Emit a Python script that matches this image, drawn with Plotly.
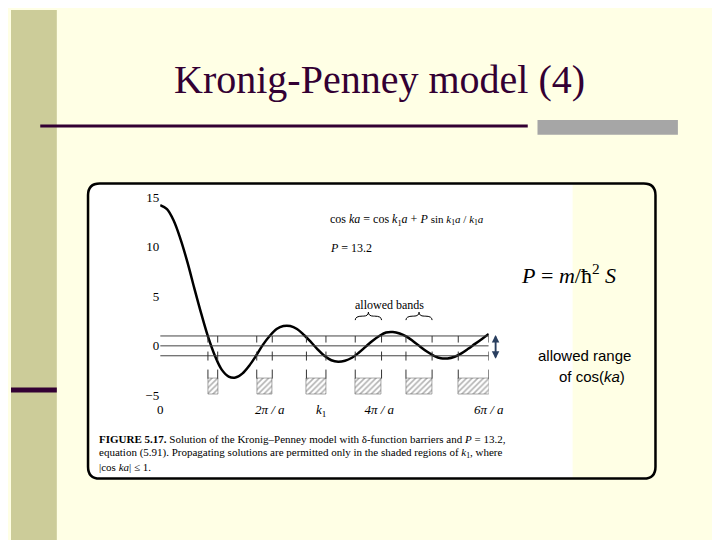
import plotly.graph_objects as go
import math

PI = math.pi
# curve values (x in rad, y value)
curve_x = [0, 0.39, 0.785, 1.18, 1.571, 1.96, 2.356, 2.75, 3.14, 3.53, 3.93, 4.32, 4.71, 5.11, 5.50, 5.89,
           6.28, 6.68, 7.07, 7.46, 7.85, 8.25, 8.64, 9.03, 9.42, 9.82, 10.21, 10.60, 11.0, 11.39, 11.78,
           12.17, 12.57, 12.96, 13.35, 13.74, 14.14, 14.53, 14.92, 15.32, 15.71, 16.10, 16.49, 16.89,
           17.28, 17.67, 18.06, 18.46, 18.85]
curve_y = [14.2, 13.8, 12.6, 10.7, 8.4, 5.8, 3.25, 0.9, -1.0, -2.4, -3.1, -3.2, -2.8, -2.0, -1.0, 0.1,
           1.0, 1.7, 2.0, 2.0, 1.7, 1.1, 0.4, -0.35, -1.0, -1.45, -1.6, -1.5, -1.2, -0.7, -0.1,
           0.5, 1.0, 1.35, 1.4, 1.25, 0.93, 0.45, -0.08, -0.6, -1.0, -1.25, -1.27, -1.1, -0.76, -0.3,
           0.2, 0.7, 1.2]
band_lo = [2.74, 5.54, 8.39, 11.19, 14.1, 17.1]
band_hi = [3.30, 6.43, 9.51, 12.7, 15.6, 18.85]
y_ticks = [15, 10, 5, 0, -5]
x_tick_vals = [0, 2 * PI, 9.23, 4 * PI, 6 * PI]
x_tick_text = ["0", "<i>2π / a</i>", "<i>k</i><sub>1</sub>", "<i>4π / a</i>", "<i>6π / a</i>"]

def px(x): return x / 720
def py(y): return 1 - y / 540

fig = go.Figure()
fig.add_trace(go.Bar(x=[(a + b) / 2 for a, b in zip(band_lo, band_hi)],
                     y=[1.6] * len(band_lo), base=[-4.9] * len(band_lo),
                     width=[b - a for a, b in zip(band_lo, band_hi)],
                     marker=dict(color="white", line=dict(color="#555", width=0.5),
                                 pattern=dict(shape="/", fgcolor="#666", size=4, solidity=0.4)),
                     showlegend=False, hoverinfo="skip"))
fig.add_trace(go.Scatter(x=curve_x, y=curve_y, mode="lines", line=dict(color="black", width=2.5, shape="spline"),
                         showlegend=False))

shapes = []
shapes.append(dict(type="rect", xref="paper", yref="paper", x0=0, x1=px(47), y0=0, y1=1,
                   fillcolor="#CCCC99", line_width=0, layer="below"))
shapes.append(dict(type="line", xref="paper", yref="paper", x0=px(30), x1=px(530), y0=py(117), y1=py(117),
                   line=dict(color="#330033", width=3)))
shapes.append(dict(type="rect", xref="paper", yref="paper", x0=px(540), x1=px(684), y0=py(111), y1=py(126),
                   fillcolor="#A6A6A6", line_width=0))
shapes.append(dict(type="rect", xref="paper", yref="paper", x0=0, x1=px(47), y0=py(386), y1=py(381),
                   fillcolor="#330033", line_width=0))
shapes.append(dict(type="rect", xref="paper", yref="paper", x0=px(81), x1=px(576), y0=py(472), y1=py(176),
                   fillcolor="white", line_width=0, layer="below"))
r = 12
x0, x1, y0, y1 = 79, 661, 175, 473
path = (f"M {px(x0+r)},{py(y0)} L {px(x1-r)},{py(y0)} Q {px(x1)},{py(y0)} {px(x1)},{py(y0+r)} "
        f"L {px(x1)},{py(y1-r)} Q {px(x1)},{py(y1)} {px(x1-r)},{py(y1)} L {px(x0+r)},{py(y1)} "
        f"Q {px(x0)},{py(y1)} {px(x0)},{py(y1-r)} L {px(x0)},{py(y0+r)} Q {px(x0)},{py(y0)} {px(x0+r)},{py(y0)} Z")
shapes.append(dict(type="path", xref="paper", yref="paper", path=path, line=dict(color="black", width=2.5)))
for v in (1, 0, -1):
    shapes.append(dict(type="line", xref="x", yref="y", x0=0, x1=6 * PI, y0=v, y1=v, line=dict(color="#444", width=1)))
for a, b in zip(band_lo, band_hi):
    for e in (a, b):
        shapes.append(dict(type="line", xref="x", yref="y", x0=e, x1=e, y0=-3.3, y1=1,
                           line=dict(color="#333", width=1, dash="dash")))
for a, b in [(band_lo[3], band_hi[3]), (band_lo[4], band_hi[4])]:
    m = (a + b) / 2
    shapes.append(dict(type="path", xref="x", yref="y",
                       path=f"M {a},2.6 Q {a},3.0 {a+0.4},3.0 L {m-0.3},3.0 Q {m},3.0 {m},3.4 "
                            f"Q {m},3.0 {m+0.3},3.0 L {b-0.4},3.0 Q {b},3.0 {b},2.6",
                       line=dict(color="black", width=1)))
fig.add_annotation(x=px(497), y=py(352), ax=0, ay=-24, xref="paper", yref="paper",
                   showarrow=True, arrowhead=2, arrowsize=1, arrowwidth=1.5, text="")
fig.add_annotation(x=px(497), y=py(328), ax=0, ay=24, xref="paper", yref="paper",
                   showarrow=True, arrowhead=2, arrowsize=1, arrowwidth=1.5, text="")

def txt(x, y, t, size, font="Liberation Serif", color="black", anchor="left", va="middle"):
    fig.add_annotation(x=px(x), y=py(y), xref="paper", yref="paper", text=t, showarrow=False,
                       xanchor=anchor, yanchor=va, font=dict(family=font, size=size, color=color))

txt(378, 70, "Kronig-Penney model (4)", 40, color="#330033", anchor="center")
txt(325, 212, "cos <i>ka</i> = cos <i>k</i><sub>1</sub><i>a</i> + <i>P</i> "
              "<span style='font-size:11px'>sin <i>k</i><sub>1</sub><i>a</i> / <i>k</i><sub>1</sub><i>a</i></span>", 12)
txt(325, 240, "<i>P</i> = 13.2", 12)
txt(388, 298, "allowed bands", 12, anchor="center")
txt(572, 266, "<i>P</i> = <i>m</i>/ħ<sup>2</sup> <i>S</i>", 22, anchor="center")
txt(588, 349, "allowed range", 15, font="Liberation Sans", anchor="center")
txt(596, 370, "of cos(<i>ka</i>)", 15, font="Liberation Sans", anchor="center")
txt(88, 433, "<b>FIGURE 5.17.</b> Solution of the Kronig–Penney model with δ-function barriers and <i>P</i> = 13.2,", 11)
txt(88, 447, "equation (5.91). Propagating solutions are permitted only in the shaded regions of <i>k</i><sub>1</sub>, where", 11)
txt(88, 461, "|cos <i>ka</i>| ≤ 1.", 11)

fig.update_layout(
    width=720, height=540, margin=dict(l=0, r=0, t=0, b=0), paper_bgcolor="#FFFFE5", plot_bgcolor="white",
    shapes=shapes, bargap=0,
    xaxis=dict(domain=[px(153), px(490)], range=[0, 6 * PI], tickvals=x_tick_vals, ticktext=x_tick_text,
               showgrid=False, zeroline=False, ticks="", showline=False,
               tickfont=dict(family="Liberation Serif", size=13, color="black")),
    yaxis=dict(domain=[py(394), py(184)], range=[-5.5, 15.5], tickvals=y_ticks, showgrid=False,
               zeroline=False, ticks="", showline=False,
               tickfont=dict(family="Liberation Serif", size=13, color="black")),
)
fig.write_html("out.html")
